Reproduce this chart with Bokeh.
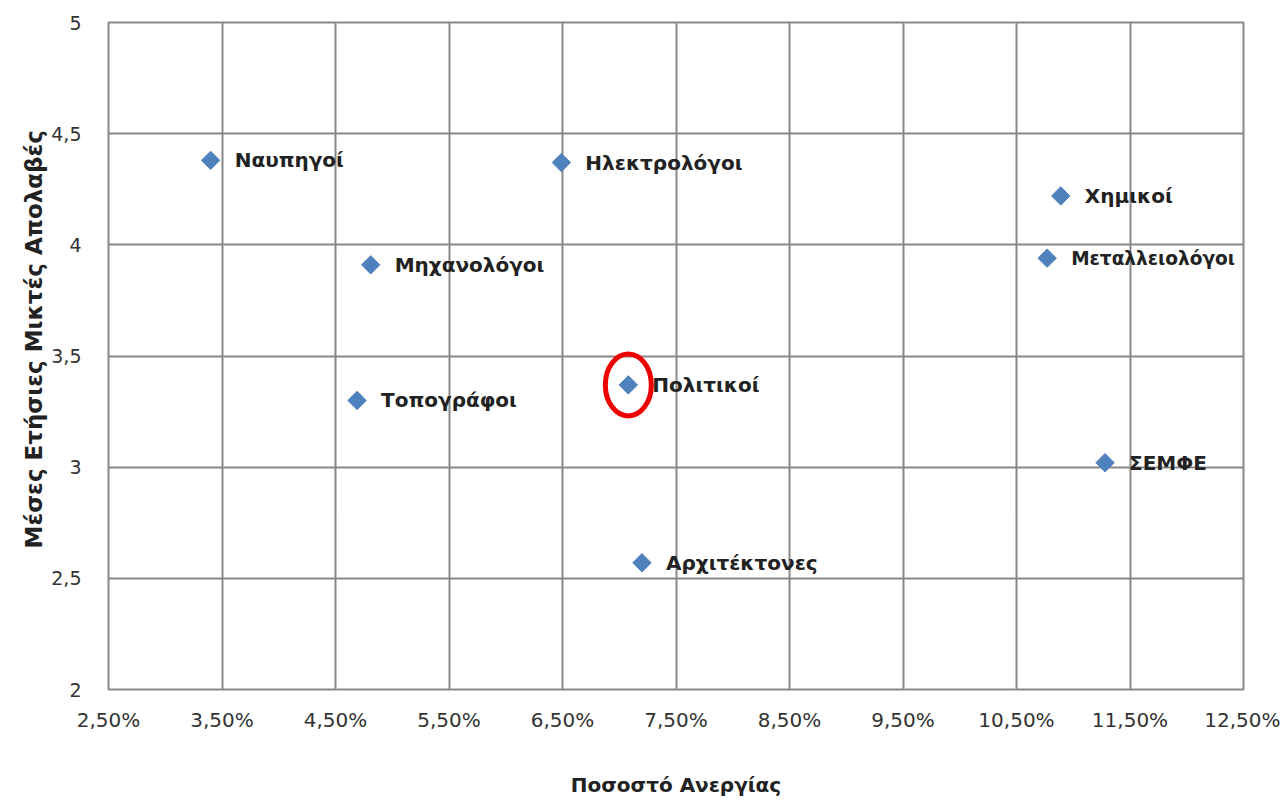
import math
from bokeh.plotting import figure
from bokeh.models import ColumnDataSource, FixedTicker, Label, Title
from bokeh.embed import file_html
from bokeh.resources import INLINE

# ---- data ----
professions = ["Ναυπηγοί", "Ηλεκτρολόγοι", "Χημικοί", "Μεταλλειολόγοι", "Μηχανολόγοι",
               "Πολιτικοί", "Τοπογράφοι", "ΣΕΜΦΕ", "Αρχιτέκτονες"]
unemployment_pct = [3.40, 6.49, 10.89, 10.77, 4.81, 7.08, 4.69, 11.28, 7.20]
earnings = [4.38, 4.37, 4.22, 3.94, 3.91, 3.37, 3.30, 3.02, 2.57]

x_ticks = [2.5, 3.5, 4.5, 5.5, 6.5, 7.5, 8.5, 9.5, 10.5, 11.5, 12.5]
x_tick_labels = ["2,50%", "3,50%", "4,50%", "5,50%", "6,50%", "7,50%", "8,50%",
                 "9,50%", "10,50%", "11,50%", "12,50%"]
y_ticks = [2, 2.5, 3, 3.5, 4, 4.5, 5]
y_tick_labels = ["2", "2,5", "3", "3,5", "4", "4,5", "5"]

x_title = "Ποσοστό Ανεργίας"
y_title = "Μέσες Ετήσιες Μικτές Απολαβές"
highlight = "Πολιτικοί"

src = ColumnDataSource(dict(x=unemployment_pct, y=earnings, name=professions))

x_lo, x_hi = x_ticks[0], x_ticks[-1]
y_lo, y_hi = y_ticks[0], y_ticks[-1]

p = figure(frame_width=1135, frame_height=667, output_backend="svg", toolbar_location=None,
           x_range=(x_lo, x_hi), y_range=(y_lo, y_hi),
           min_border_left=108, min_border_right=37, min_border_top=22, min_border_bottom=10)
p.background_fill_color = "white"
p.border_fill_color = "white"
p.outline_line_color = "#888888"
p.outline_line_width = 2

for ax in (p.xaxis, p.yaxis):
    ax.axis_line_color = None
    ax.major_tick_line_color = None
    ax.minor_tick_line_color = None
    ax.major_tick_out = 0
    ax.major_tick_in = 0
    ax.major_label_text_font = "DejaVu Sans"
    ax.major_label_text_color = "#333333"
    ax.axis_label_text_font = "DejaVu Sans"
    ax.axis_label_text_font_style = "bold"
    ax.axis_label_text_color = "#222222"

p.xaxis.major_label_text_font_size = "20px"
p.yaxis.major_label_text_font_size = "19px"
p.xaxis.ticker = FixedTicker(ticks=x_ticks)
p.xaxis.major_label_overrides = {t: l for t, l in zip(x_ticks, x_tick_labels)}
p.yaxis.ticker = FixedTicker(ticks=y_ticks)
p.yaxis.major_label_overrides = {t: l for t, l in zip(y_ticks, y_tick_labels)}
p.xaxis.major_label_standoff = 18
p.yaxis.major_label_standoff = 27
p.xaxis.axis_label = x_title
p.xaxis.axis_label_text_font_size = "20px"
p.xaxis.axis_label_standoff = 38

# y-axis title in the left panel, anchored from the bottom (as in the original, above centre)
p.add_layout(Title(text=y_title, align="left", offset=141,
                   text_font="DejaVu Sans", text_font_size="23px", text_font_style="bold",
                   text_color="#222222", standoff=4), "left")

p.xgrid.grid_line_color = "#888888"
p.ygrid.grid_line_color = "#888888"
p.xgrid.grid_line_width = 2
p.ygrid.grid_line_width = 2

p.scatter("x", "y", source=src, marker="square", angle=math.pi / 4, size=13,
          fill_color="#4F81BD", line_color="#4F81BD")

# labels: 20px, shrunk a little only where the name would run past the plot frame
for name, xv, yv in zip(professions, unemployment_pct, earnings):
    fs = "18.5px" if len(name) > 12 and xv > 10 else "20px"
    p.add_layout(Label(x=xv, y=yv, x_offset=24, y_offset=0, text=name,
                       text_font="DejaVu Sans", text_font_size=fs,
                       text_font_style="bold", text_color="#222222",
                       text_baseline="middle", text_align="left"))

i = professions.index(highlight)
p.ellipse(x=[unemployment_pct[i]], y=[earnings[i]], width=46, height=62,
          width_units="screen", height_units="screen",
          fill_color=None, line_color="#EE0000", line_width=5)

open("out.html", "w").write(file_html(p, INLINE))
